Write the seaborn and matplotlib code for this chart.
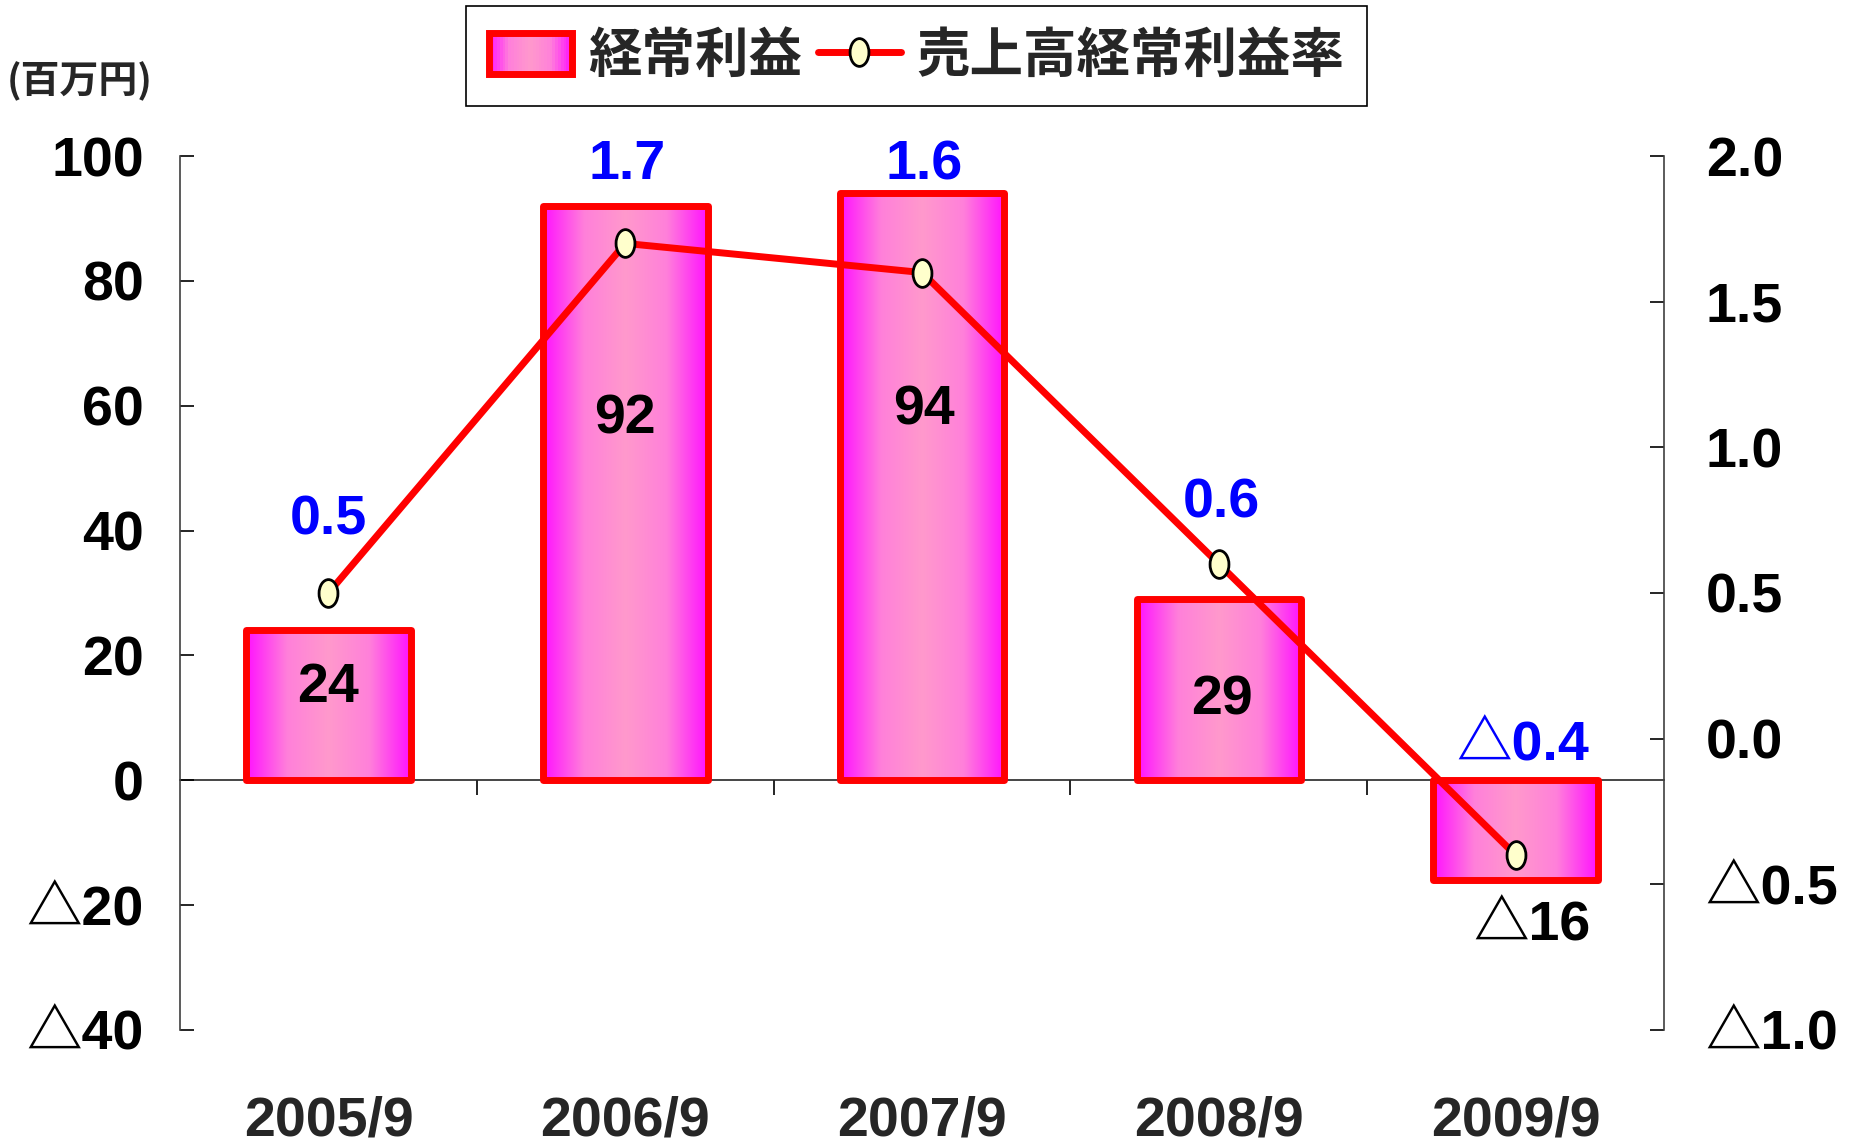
import numpy as np
import matplotlib
matplotlib.use("Agg")
import matplotlib.pyplot as plt
import seaborn as sns
from matplotlib import font_manager
from matplotlib.colors import LinearSegmentedColormap
from matplotlib.patches import Rectangle
from matplotlib.lines import Line2D
from matplotlib.path import Path
from matplotlib.legend_handler import HandlerBase
from matplotlib.ticker import FuncFormatter

periods = ["2005/9", "2006/9", "2007/9", "2008/9", "2009/9"]
profit = [24, 92, 94, 29, -16]          # 経常利益 (百万円)
rate = [0.5, 1.7, 1.6, 0.6, -0.4]       # 売上高経常利益率 (%)
bar_name = "経常利益"
line_name = "売上高経常利益率"
unit_text = "(百万円)"

# label nudges in pixels (style only)
bar_lbl_dx = [0, 0, 2, 3, 16]
bar_lbl_dy = [17, 74, 76, -11, -96]
rate_lbl_dx = [0, 2, 2, 3, 7]
rate_lbl_dy = [72, 78, 107, 60, 109]

sns.set_style("white")
names = {f.name for f in font_manager.fontManager.ttflist}
num_font = "Liberation Sans Narrow" if "Liberation Sans Narrow" in names else "Liberation Sans"
fams = [num_font, "Noto Sans CJK JP", "DejaVu Sans"]
plt.rcParams["font.family"] = fams
plt.rcParams["font.weight"] = "bold"
NUM = 40

grad_cmap = LinearSegmentedColormap.from_list(
    "pinkgrad", ["#FF11FF", "#FF80DA", "#FF99CC", "#FF80DA", "#FF11FF"])


def neg(v, fmt):
    s = fmt.format(abs(v))
    return "△" + s if v < 0 else s


fig = plt.figure(figsize=(18.56, 11.48), dpi=100)
ax = fig.add_axes([0.097, 0.1028, 0.7996, 0.7613])
ax2 = ax.twinx()

sns.barplot(x=periods, y=profit, ax=ax, width=0.555, color="#FF99CC",
            edgecolor="#FF0000", linewidth=5, zorder=2)
for p in ax.patches:
    p.set_facecolor("none")
    p.set_joinstyle("round")
    x0, w = p.get_x(), p.get_width()
    y0, h = p.get_y(), p.get_height()
    im = ax.imshow(np.linspace(0, 1, 256).reshape(1, -1), cmap=grad_cmap,
                   extent=[x0, x0 + w, min(y0, y0 + h), max(y0, y0 + h)],
                   aspect="auto", zorder=1.5)
    im.set_clip_path(p)

ylo, yhi = -40, 100
ax.set_xlim(-0.5, len(periods) - 0.5)
ax.set_ylim(ylo, yhi)
ax.set_yticks(range(-40, 101, 20))
ax.yaxis.set_major_formatter(FuncFormatter(lambda v, _: neg(round(v), "{:d}")))
ax.tick_params(axis="y", direction="in", length=10, width=1.2, pad=26,
               labelsize=NUM, colors="black")
ax.set_xticks(range(len(periods)), periods)
ax.tick_params(axis="x", length=0, pad=47, labelsize=NUM)
ax.set_xlabel("")
ax.set_ylabel("")
for s in ["top", "bottom", "right"]:
    ax.spines[s].set_visible(False)
ax.spines["left"].set_color("#404040")
ax.spines["left"].set_linewidth(1.2)

# zero line with category boundary ticks
zero_ax = ax.secondary_xaxis((0 - ylo) / (yhi - ylo))
zero_ax.set_xticks(np.arange(0.5, len(periods) - 1, 1.0))
zero_ax.set_xticklabels([])
zero_ax.tick_params(direction="out", length=11, width=1.2, colors="black")
zero_ax.spines["bottom"].set_linewidth(1.2)

# line on right axis
circ = Path.unit_circle()
ell = Path(circ.vertices * np.array([0.68, 1.0]), circ.codes)
sns.lineplot(x=np.arange(len(periods)), y=rate, ax=ax2, color="#FF0000",
             linewidth=5, marker=ell, markersize=20, markerfacecolor="#FFFFCC",
             markeredgecolor="black", markeredgewidth=2, sort=False, zorder=3)
ax2.set_ylim(-1.0, 2.0)
ax2.set_yticks(np.arange(-1.0, 2.01, 0.5))
ax2.yaxis.set_major_formatter(FuncFormatter(lambda v, _: neg(round(v, 1), "{:.1f}")))
ax2.tick_params(axis="y", direction="in", length=10, width=1.2, pad=30,
                labelsize=NUM, colors="black")
ax2.set_ylabel("")
for s in ["top", "bottom", "left"]:
    ax2.spines[s].set_visible(False)
ax2.spines["right"].set_color("#404040")
ax2.spines["right"].set_linewidth(1.2)

for i, v in enumerate(profit):
    ax.annotate(neg(v, "{:d}"), (i, v / 2), xytext=(bar_lbl_dx[i], bar_lbl_dy[i]),
                textcoords="offset pixels", ha="center", va="center",
                fontsize=NUM, fontweight="bold", color="black", zorder=5)
for i, r in enumerate(rate):
    ax2.annotate(neg(r, "{:.1f}"), (i, r), xytext=(rate_lbl_dx[i], rate_lbl_dy[i]),
                 textcoords="offset pixels", ha="center", va="center",
                 fontsize=NUM, fontweight="bold", color="#0000FF", zorder=5)

fig.text(0.043, 0.929, unit_text, ha="center", va="center", fontsize=28,
         fontweight="bold", family=["Noto Sans CJK JP", "DejaVu Sans"])


class GradientHandler(HandlerBase):
    def create_artists(self, legend, orig_handle, xdescent, ydescent,
                       width, height, fontsize, trans):
        x0, y0 = -xdescent, -ydescent
        n = 30
        arts = []
        for k in range(n):
            arts.append(Rectangle((x0 + width * k / n, y0), width / n + 0.3, height,
                                  facecolor=grad_cmap((k + 0.5) / n), edgecolor="none",
                                  transform=trans))
        arts.append(Rectangle((x0, y0), width, height, facecolor="none",
                              edgecolor="#FF0000", linewidth=5, transform=trans))
        return arts


bar_proxy = Rectangle((0, 0), 1, 1)
line_proxy = Line2D([], [], color="#FF0000", linewidth=5, marker=ell, markersize=20,
                    markerfacecolor="#FFFFCC", markeredgecolor="black",
                    markeredgewidth=2)
leg = fig.legend([bar_proxy, line_proxy], [bar_name, line_name],
                 handler_map={bar_proxy: GradientHandler()},
                 loc="center", bbox_to_anchor=(0.494, 0.951), ncol=2,
                 frameon=True, fancybox=False, edgecolor="black", framealpha=1,
                 handlelength=1.55, handleheight=0.8, handletextpad=0.3,
                 columnspacing=0.3, borderpad=0.42, borderaxespad=0,
                 prop={"family": ["Noto Sans CJK JP", "DejaVu Sans"],
                       "weight": "bold", "size": 38.5})
leg.get_frame().set_linewidth(1.2)

fig.savefig("out.png", dpi=100)
